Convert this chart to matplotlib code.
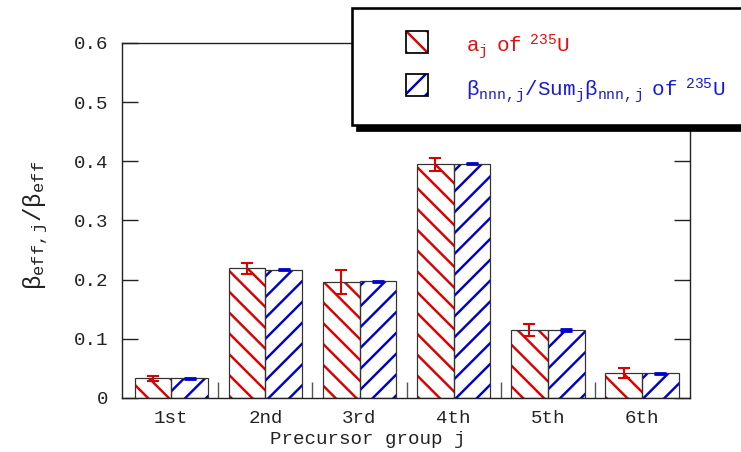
import matplotlib
matplotlib.use("Agg")
import matplotlib.pyplot as plt
from matplotlib.patches import Rectangle
import numpy as np

# ---- data ----
groups = ["1st", "2nd", "3rd", "4th", "5th", "6th"]
a_j = [0.033, 0.219, 0.196, 0.395, 0.115, 0.042]
a_j_err = [0.004, 0.0095, 0.021, 0.011, 0.010, 0.008]
beta_ratio = [0.033, 0.217, 0.197, 0.396, 0.115, 0.042]
beta_ratio_err = [0.001, 0.001, 0.001, 0.001, 0.001, 0.001]
yticks = [0, 0.1, 0.2, 0.3, 0.4, 0.5, 0.6]
ytick_labels = ["0", "0.1", "0.2", "0.3", "0.4", "0.5", "0.6"]

RED = "#dd0000"
BLUE = "#0000cc"
DPI = 125
HATCH_RED = "\\\\"
HATCH_BLUE = "//"

plt.rcParams["font.family"] = ["Liberation Mono", "DejaVu Sans"]
plt.rcParams["mathtext.fontset"] = "custom"
plt.rcParams["mathtext.rm"] = "Liberation Mono"
plt.rcParams["mathtext.it"] = "Liberation Mono"
plt.rcParams["hatch.linewidth"] = 1.4

fig = plt.figure(figsize=(741 / DPI, 452 / DPI), dpi=DPI)
ax = fig.add_axes([122 / 741, 1 - 398 / 452, 568 / 741, 355 / 452])

x = np.arange(1, len(groups) + 1)
w = 0.39

# hatched fills
ax.bar(x - w / 2, a_j, w, facecolor="white", edgecolor=RED, hatch=HATCH_RED, linewidth=0, zorder=2)
ax.bar(x + w / 2, beta_ratio, w, facecolor="white", edgecolor=BLUE, hatch=HATCH_BLUE, linewidth=0, zorder=2)
# outlines
ax.bar(x - w / 2, a_j, w, fill=False, edgecolor="#333333", linewidth=0.7, zorder=3)
ax.bar(x + w / 2, beta_ratio, w, fill=False, edgecolor="#333333", linewidth=0.7, zorder=3)

ax.errorbar(x - w / 2, a_j, yerr=a_j_err, fmt="none", ecolor=RED, elinewidth=1.2,
            capsize=3.5, capthick=1.2, zorder=4)
ax.errorbar(x + w / 2, beta_ratio, yerr=beta_ratio_err, fmt="none", ecolor=BLUE, elinewidth=1.5,
            capsize=3.5, capthick=1.6, zorder=4)

ax.set_xlim(0.477, 6.51)
ax.set_ylim(0, 0.6)
ax.set_yticks(yticks)
ax.set_yticklabels(ytick_labels)
ax.set_xticks(x)
ax.set_xticklabels(groups)
ax.set_xticks(np.arange(1.5, 6.0, 1.0), minor=True)

ax.tick_params(axis="x", which="major", length=0, pad=7, labelsize=11, colors="#222222")
ax.tick_params(axis="x", which="minor", direction="in", length=9, width=0.8, color="#555555")
ax.tick_params(axis="y", which="major", direction="in", length=9, width=0.8, pad=8,
               labelsize=11, right=True, colors="#222222")
ax.tick_params(axis="y", which="minor", length=0)

for s in ax.spines.values():
    s.set_linewidth(0.8)
    s.set_color("#222222")
    s.set_zorder(5)

ax.set_xlabel("Precursor group j", fontsize=11, color="#222222")
ax.xaxis.set_label_coords(0.433, -0.093)
ax.set_ylabel(r"$\mathrm{β_{eff,j}/β_{eff}}$", fontsize=14, color="#222222")
ax.yaxis.set_label_coords(-0.127, 0.485)

# ---- legend box (manual, with shadow) ----
fw, fh = 741, 452
def fx(px):
    return px / fw
def fy(py):
    return 1 - py / fh

shadow = Rectangle((fx(357), fy(131)), fx(500), (125 - 8) / fh, transform=fig.transFigure,
                   facecolor="black", edgecolor="black", zorder=10)
box = Rectangle((fx(352), fy(125)), fx(500), (125 - 8) / fh, transform=fig.transFigure,
                facecolor="white", edgecolor="black", linewidth=1.5, zorder=11)
fig.add_artist(shadow)
fig.add_artist(box)

for (y0, y1), col, hatch in [((31, 53), RED, HATCH_RED), ((74, 96), BLUE, HATCH_BLUE)]:
    h = Rectangle((fx(406), fy(y1)), fx(22), (y1 - y0) / fh, transform=fig.transFigure,
                  facecolor="white", edgecolor=col, hatch=hatch, linewidth=0, zorder=12)
    o = Rectangle((fx(406), fy(y1)), fx(22), (y1 - y0) / fh, transform=fig.transFigure,
                  fill=False, edgecolor="black", linewidth=1.0, zorder=13)
    fig.add_artist(h)
    fig.add_artist(o)

fig.text(fx(466), fy(53), r"$\mathrm{a_j\ \ of\ \ ^{235}U}$", color="#e01010",
         fontsize=12, va="baseline", ha="left", zorder=14)
fig.text(fx(466), fy(97), r"$\mathrm{β_{nnn,j}/Sum_jβ_{nnn,j}\ \ of\ \ ^{235}U}$", color="#1a1ad0",
         fontsize=12, va="baseline", ha="left", zorder=14)

fig.savefig("out.png", dpi=DPI)
